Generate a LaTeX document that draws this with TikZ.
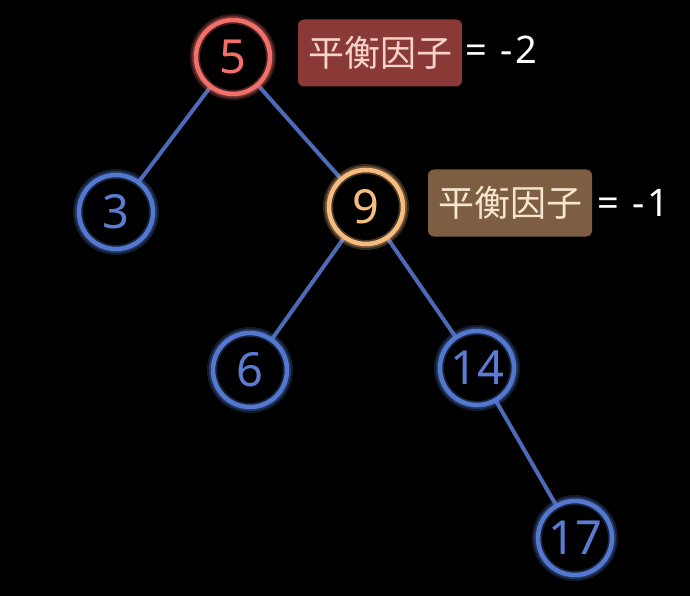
\documentclass[tikz,border=0pt]{standalone}
\usepackage{fontspec}
\setmainfont{Noto Sans}
\newfontfamily\cjk{Noto Sans CJK SC}
\definecolor{bluec}{HTML}{5478D0}
\definecolor{bluet}{HTML}{5A7CD2}
\definecolor{edgec}{HTML}{4C6AB8}
\definecolor{redc}{HTML}{F2706A}
\definecolor{orangec}{HTML}{F6BC7E}
\definecolor{boxred}{HTML}{8A3A36}
\definecolor{boxbrown}{HTML}{7D5E42}
\definecolor{pinkt}{HTML}{F9D2CA}
\definecolor{creamt}{HTML}{F7E6CF}
\tikzset{
  nd/.style={circle, minimum size=74pt, inner sep=0pt, line width=4.5pt, draw=#1,
    font=\fontsize{47}{47}\selectfont,
    preaction={draw=#1, line width=12pt, draw opacity=0.22},
    postaction={draw=#1, line width=8pt, draw opacity=0.3}},
  edge/.style={draw=edgec, line width=4pt},
  tag/.style={rounded corners=6pt, inner sep=0pt, minimum width=164pt, minimum height=67pt,
    font=\cjk\fontsize{36}{36}\selectfont},
  eq/.style={text=white, font=\fontsize{38}{38}\selectfont, anchor=west, inner sep=0pt}
}
\begin{document}
\begin{tikzpicture}[x=1pt,y=-1pt]
\fill[black] (0,0) rectangle (690,596);
\useasboundingbox (0,0) rectangle (690,596);
\coordinate (p5) at (233,57);
\coordinate (p3) at (116,212);
\coordinate (p9) at (366,207);
\coordinate (p6) at (250,370);
\coordinate (p14) at (477,368);
\coordinate (p17) at (575,538);
\draw[edge] (p5) -- (p3);
\draw[edge] (p5) -- (p9);
\draw[edge] (p9) -- (p6);
\draw[edge] (p9) -- (p14);
\draw[edge] (p14) -- (p17);
\node[nd=redc, fill=black, text=redc] (n5) at (p5) {5};
\node[nd=bluec, fill=black, text=bluet] (n3) at (p3) {3};
\node[nd=orangec, fill=black, text=orangec] (n9) at (p9) {9};
\node[nd=bluec, fill=black, text=bluet] (n6) at (p6) {6};
\node[nd=bluec, fill=black, text=bluet] (n14) at (p14) {14};
\node[nd=bluec, fill=black, text=bluet] (n17) at (p17) {17};
\node[tag, fill=boxred, text=pinkt] (t1) at (380,53) {平衡因子};
\node[eq] (e1) at (465,50) {=\kern14pt-\kern2pt2};
\node[tag, fill=boxbrown, text=creamt] (t2) at (510,203) {平衡因子};
\node[eq] (e2) at (597,203) {=\kern14pt-\kern2pt1};
\end{tikzpicture}
\end{document}
